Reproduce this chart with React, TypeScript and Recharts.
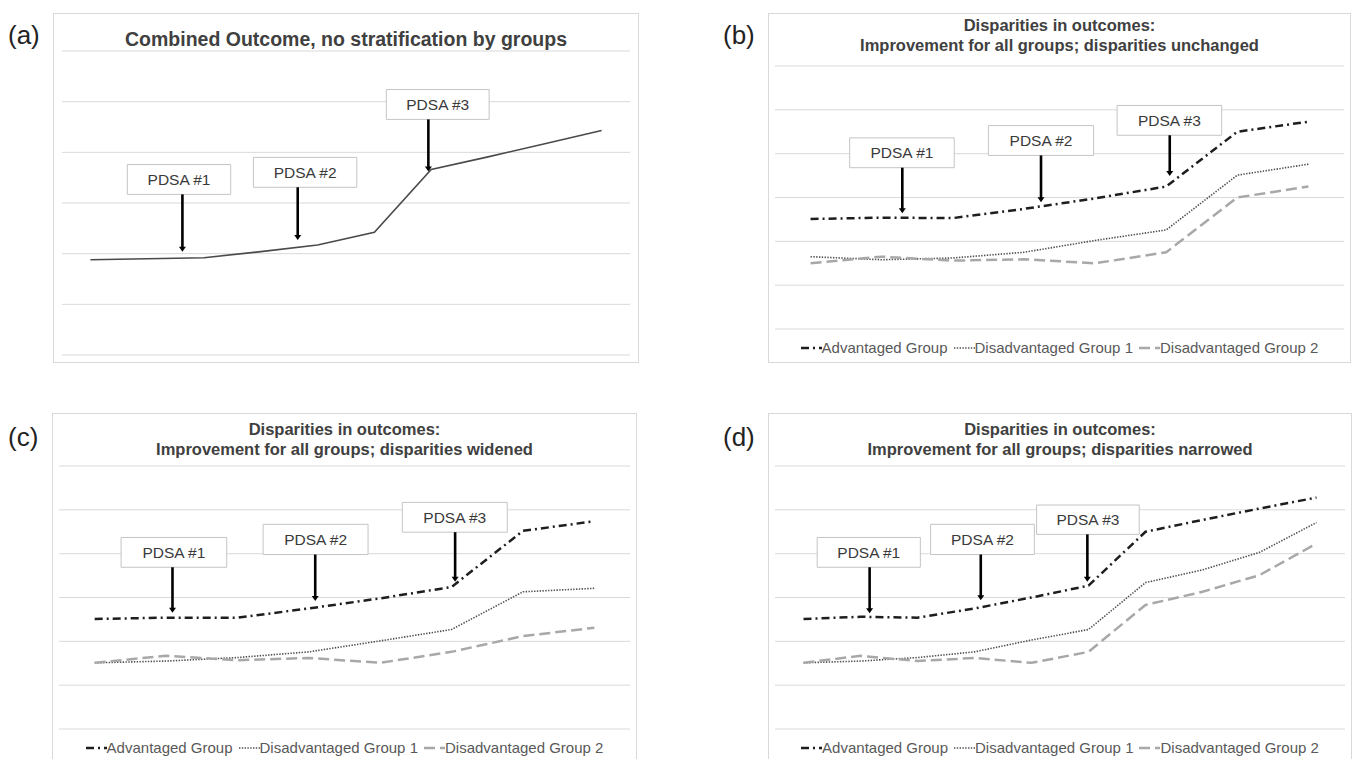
import { LineChart, Line, XAxis, YAxis, CartesianGrid, ReferenceArea, ReferenceLine } from "recharts";

const FONT = '"Liberation Sans", Arial, Helvetica, sans-serif';

// y scale shared by all four panels (gridlines 0..6, no labels shown)
const Y_TICKS = [0, 1, 2, 3, 4, 5, 6];

// (a) combined outcome, 10 measurement points
const A_COMBINED = [1.88, 1.9, 1.92, 2.04, 2.17, 2.42, 3.66, 3.91, 4.17, 4.43];

// (b) disparities unchanged, 8 points
const B_ADV = [2.51, 2.54, 2.53, 2.74, 2.98, 3.25, 4.5, 4.73];
const B_DIS1 = [1.65, 1.58, 1.62, 1.75, 2.02, 2.26, 3.51, 3.76];
const B_DIS2 = [1.5, 1.65, 1.56, 1.59, 1.5, 1.75, 3.0, 3.25];

// (c) disparities widened, 8 points
const C_ADV = [2.51, 2.54, 2.54, 2.75, 2.98, 3.24, 4.52, 4.74];
const C_DIS1 = [1.51, 1.55, 1.63, 1.76, 2.01, 2.27, 3.13, 3.21];
const C_DIS2 = [1.51, 1.67, 1.57, 1.62, 1.51, 1.76, 2.12, 2.31];

// (d) disparities narrowed, 10 points
const D_ADV = [2.51, 2.56, 2.54, 2.75, 3.0, 3.27, 4.5, 4.77, 5.03, 5.28];
const D_DIS1 = [1.51, 1.55, 1.63, 1.76, 2.03, 2.27, 3.34, 3.63, 4.03, 4.71];
const D_DIS2 = [1.51, 1.67, 1.55, 1.62, 1.51, 1.76, 2.83, 3.13, 3.51, 4.23];

const GROUP_NAMES = ["Advantaged Group", "Disadvantaged Group 1", "Disadvantaged Group 2"];
const PDSA_LABELS = ["PDSA #1", "PDSA #2", "PDSA #3"];

// PDSA callouts in data units: [x1, x2, yTop, yBottom, arrowX, arrowTip]
const A_PDSA = [
  [0.65, 2.47, 3.76, 3.17, 1.62, 2.04],
  [2.87, 4.69, 3.9, 3.31, 3.65, 2.27],
  [5.21, 7.02, 5.24, 4.65, 5.95, 3.62],
];
const B_PDSA = [
  [0.55, 2.02, 4.36, 3.68, 1.29, 2.64],
  [2.5, 3.98, 4.64, 3.96, 3.24, 2.89],
  [4.31, 5.78, 5.1, 4.42, 5.05, 3.49],
];
const C_PDSA = [
  [0.37, 1.85, 4.37, 3.69, 1.09, 2.65],
  [2.36, 3.83, 4.67, 3.98, 3.09, 2.92],
  [4.31, 5.78, 5.17, 4.49, 5.05, 3.36],
];
const D_PDSA = [
  [0.24, 2.05, 4.37, 3.69, 1.16, 2.64],
  [2.23, 4.05, 4.67, 3.98, 3.11, 2.94],
  [4.09, 5.89, 5.11, 4.44, 4.98, 3.36],
];

const GROUP_STYLES = [
  { key: "adv", stroke: "#1e1e1e", width: 2.5, dash: "8 4 2 4" },
  { key: "dis1", stroke: "#505050", width: 1.6, dash: "1.4 1.4" },
  { key: "dis2", stroke: "#a8a8a8", width: 2.5, dash: "11 5" },
];

function Arrow(props: any) {
  const { x1, y1, x2, y2 } = props;
  const top = Math.min(y1, y2);
  const tip = Math.max(y1, y2);
  return (
    <g>
      <line x1={x1} y1={top} x2={x1} y2={tip - 4} stroke="#000" strokeWidth={2.6} />
      <polygon points={`${x1 - 3.5},${tip - 5} ${x1 + 3.5},${tip - 5} ${x1},${tip}`} fill="#000" />
    </g>
  );
}

function LegendRow() {
  return (
    <div
      style={{
        display: "flex",
        justifyContent: "center",
        alignItems: "center",
        fontFamily: FONT,
        fontSize: 15,
        color: "#595959",
        whiteSpace: "nowrap",
      }}
    >
      {GROUP_STYLES.map((s, i) => (
        <span key={s.key} style={{ display: "inline-flex", alignItems: "center", marginLeft: i ? 6 : 0 }}>
          <svg width={21} height={10}>
            <line x1={0} y1={5} x2={21} y2={5} stroke={s.stroke} strokeWidth={s.width} strokeDasharray={s.dash} />
          </svg>
          {GROUP_NAMES[i]}
        </span>
      ))}
    </div>
  );
}

type PanelProps = {
  tag: string;
  tagLeft: number;
  tagTop: number;
  left: number;
  top: number;
  width: number;
  height: number;
  margin: { top: number; right: number; bottom: number; left: number };
  titles: string[];
  titleTop: number;
  titleSize: number;
  rows: any[];
  n: number;
  series: { key: string; stroke: string; width: number; dash?: string }[];
  pdsa: number[][];
  legend: boolean;
  legendTop?: number;
};

function Panel(p: PanelProps) {
  return (
    <>
      <div
        style={{
          position: "absolute",
          left: p.tagLeft,
          top: p.tagTop,
          fontFamily: FONT,
          fontSize: 26,
          lineHeight: "28px",
          color: "#222",
        }}
      >
        {p.tag}
      </div>
      <div
        style={{
          position: "absolute",
          left: p.left,
          top: p.top,
          width: p.width,
          height: p.height,
          border: "1px solid #d9d9d9",
          boxSizing: "border-box",
          background: "#fff",
        }}
      />
      <div style={{ position: "absolute", left: p.left, top: p.top, width: p.width, height: p.height }}>
        <LineChart width={p.width} height={p.height} data={p.rows} margin={p.margin}>
          <CartesianGrid vertical={false} stroke="#d9d9d9" strokeWidth={1} />
          <XAxis type="number" dataKey="i" domain={[-0.5, p.n - 0.5]} hide />
          <YAxis type="number" domain={[0, 6]} ticks={Y_TICKS} hide />
          {p.pdsa.map((b, k) => (
            <ReferenceArea
              key={"box" + k}
              x1={b[0]}
              x2={b[1]}
              y1={b[3]}
              y2={b[2]}
              fill="#ffffff"
              fillOpacity={1}
              stroke="#c4c4c4"
              strokeWidth={1}
              label={{ value: PDSA_LABELS[k], position: "center", fill: "#3a3a3a", fontSize: 15.5, fontFamily: FONT }}
            />
          ))}
          {p.series.map((s) => (
            <Line
              key={s.key}
              type="linear"
              dataKey={s.key}
              stroke={s.stroke}
              strokeWidth={s.width}
              strokeDasharray={s.dash}
              dot={false}
              activeDot={false}
              isAnimationActive={false}
            />
          ))}
          {p.pdsa.map((b, k) => (
            <ReferenceLine
              key={"arrow" + k}
              segment={[
                { x: b[4], y: b[3] },
                { x: b[4], y: b[5] },
              ]}
              stroke="#000"
              shape={(props: any) => <Arrow {...props} />}
            />
          ))}
        </LineChart>
        <div
          style={{
            position: "absolute",
            left: 0,
            top: p.titleTop,
            width: p.width,
            textAlign: "center",
            fontFamily: FONT,
            fontWeight: "bold",
            fontSize: p.titleSize,
            lineHeight: `${Math.round(p.titleSize * 1.22)}px`,
            color: "#404040",
          }}
        >
          {p.titles.map((t) => (
            <div key={t}>{t}</div>
          ))}
        </div>
        {p.legend ? (
          <div style={{ position: "absolute", left: 0, top: p.legendTop, width: p.width }}>
            <LegendRow />
          </div>
        ) : null}
      </div>
    </>
  );
}

const groupRows = (adv: number[], dis1: number[], dis2: number[]) =>
  adv.map((v, i) => ({ i, adv: v, dis1: dis1[i], dis2: dis2[i] }));

export default function App() {
  const aRows = A_COMBINED.map((v, i) => ({ i, combined: v }));
  const groupMargin = { top: 53, right: 7, bottom: 34, left: 7 };
  return (
    <div
      style={{
        position: "absolute",
        left: 0,
        top: 0,
        width: 1354,
        height: 759,
        background: "#fff",
        overflow: "hidden",
      }}
    >
      <Panel
        tag="(a)"
        tagLeft={8}
        tagTop={21}
        left={53}
        top={13}
        width={586}
        height={350}
        margin={{ top: 38, right: 9, bottom: 8, left: 9 }}
        titles={["Combined Outcome, no stratification by groups"]}
        titleTop={14}
        titleSize={19.5}
        rows={aRows}
        n={A_COMBINED.length}
        series={[{ key: "combined", stroke: "#4a4a4a", width: 1.6 }]}
        pdsa={A_PDSA}
        legend={false}
      />
      <Panel
        tag="(b)"
        tagLeft={723}
        tagTop={21}
        left={768}
        top={13}
        width={583}
        height={350}
        margin={groupMargin}
        titles={["Disparities in outcomes:", "Improvement for all groups; disparities unchanged"]}
        titleTop={2}
        titleSize={16.5}
        rows={groupRows(B_ADV, B_DIS1, B_DIS2)}
        n={B_ADV.length}
        series={GROUP_STYLES}
        pdsa={B_PDSA}
        legend={true}
        legendTop={326}
      />
      <Panel
        tag="(c)"
        tagLeft={8}
        tagTop={423}
        left={52}
        top={413}
        width={585}
        height={350}
        margin={groupMargin}
        titles={["Disparities in outcomes:", "Improvement for all groups; disparities widened"]}
        titleTop={6}
        titleSize={16.5}
        rows={groupRows(C_ADV, C_DIS1, C_DIS2)}
        n={C_ADV.length}
        series={GROUP_STYLES}
        pdsa={C_PDSA}
        legend={true}
        legendTop={326}
      />
      <Panel
        tag="(d)"
        tagLeft={723}
        tagTop={423}
        left={768}
        top={413}
        width={584}
        height={350}
        margin={groupMargin}
        titles={["Disparities in outcomes:", "Improvement for all groups; disparities narrowed"]}
        titleTop={6}
        titleSize={16.5}
        rows={groupRows(D_ADV, D_DIS1, D_DIS2)}
        n={D_ADV.length}
        series={GROUP_STYLES}
        pdsa={D_PDSA}
        legend={true}
        legendTop={326}
      />
    </div>
  );
}
